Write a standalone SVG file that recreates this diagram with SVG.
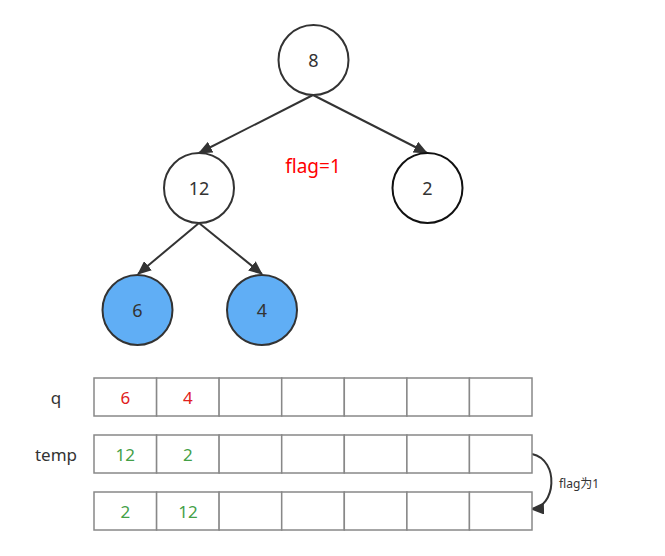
<svg xmlns="http://www.w3.org/2000/svg" width="665" height="556" viewBox="0 0 665 556">
<defs>
<marker id="ah" viewBox="0 0 14 12" refX="13" refY="6" markerWidth="14" markerHeight="12" markerUnits="userSpaceOnUse" orient="auto">
<path d="M0,0 L14,6 L0,12 Z" fill="#333"/>
</marker>
<style>
.n{fill:#fff;stroke:#333;stroke-width:2}
.b{fill:#60AEF5;stroke:#333;stroke-width:2}
.t{font-family:"Noto Sans","Liberation Sans",sans-serif;font-size:17px;fill:#333;text-anchor:middle;dominant-baseline:central}
.c{fill:#fff;stroke:#888;stroke-width:1.5}
.e{stroke:#333;stroke-width:2;fill:none}
.r{fill:#e02020}
.g{fill:#43a047}
</style>
</defs>
<rect width="665" height="556" fill="#fff"/>
<g id="connectors">
<line class="e" x1="313" y1="95" x2="199" y2="153" marker-end="url(#ah)"/>
<line class="e" x1="313" y1="95" x2="427" y2="153" marker-end="url(#ah)"/>
<line class="e" x1="199" y1="223" x2="138" y2="274" marker-end="url(#ah)"/>
<line class="e" x1="199" y1="223" x2="262" y2="274" marker-end="url(#ah)"/>
<path class="e" d="M532,454 C560,460 556,508 531,509" marker-end="url(#ah)"/>
</g>
<g id="n8"><circle class="n" cx="313.5" cy="60" r="35"/><text class="t" x="313.5" y="60" style="font-size:18px">8</text></g>
<g id="n12"><circle class="n" cx="199" cy="188" r="35"/><text class="t" x="199" y="188" style="font-size:18px">12</text></g>
<g id="n2"><circle class="n" cx="427.5" cy="188" r="35" style="stroke:#111"/><text class="t" x="427.5" y="188" style="font-size:18px">2</text></g>
<g id="n6"><circle class="b" cx="137.5" cy="310" r="35"/><text class="t" x="137.5" y="310" style="font-size:18px">6</text></g>
<g id="n4"><circle class="b" cx="262" cy="310" r="35"/><text class="t" x="262" y="310" style="font-size:18px">4</text></g>
<text class="t" x="313" y="166" style="fill:#ff0000;font-size:19px">flag=1</text>
<g id="q">
<text class="t" x="56" y="397">q</text>
<rect class="c" x="94" y="378" width="62.6" height="38"/><rect class="c" x="156.6" y="378" width="62.6" height="38"/><rect class="c" x="219.1" y="378" width="62.6" height="38"/><rect class="c" x="281.7" y="378" width="62.6" height="38"/><rect class="c" x="344.3" y="378" width="62.6" height="38"/><rect class="c" x="406.9" y="378" width="62.6" height="38"/><rect class="c" x="469.4" y="378" width="62.6" height="38"/>
<text class="t r" x="125.3" y="397">6</text><text class="t r" x="187.9" y="397">4</text>
</g>
<g id="temp">
<text class="t" x="56" y="454">temp</text>
<rect class="c" x="94" y="435" width="62.6" height="38"/><rect class="c" x="156.6" y="435" width="62.6" height="38"/><rect class="c" x="219.1" y="435" width="62.6" height="38"/><rect class="c" x="281.7" y="435" width="62.6" height="38"/><rect class="c" x="344.3" y="435" width="62.6" height="38"/><rect class="c" x="406.9" y="435" width="62.6" height="38"/><rect class="c" x="469.4" y="435" width="62.6" height="38"/>
<text class="t g" x="125.3" y="454">12</text><text class="t g" x="187.9" y="454">2</text>
</g>
<g id="result">
<rect class="c" x="94" y="492" width="62.6" height="38"/><rect class="c" x="156.6" y="492" width="62.6" height="38"/><rect class="c" x="219.1" y="492" width="62.6" height="38"/><rect class="c" x="281.7" y="492" width="62.6" height="38"/><rect class="c" x="344.3" y="492" width="62.6" height="38"/><rect class="c" x="406.9" y="492" width="62.6" height="38"/><rect class="c" x="469.4" y="492" width="62.6" height="38"/>
<text class="t g" x="125.3" y="511">2</text><text class="t g" x="187.9" y="511">12</text>
</g>
<text x="559" y="483" style="font-family:'Noto Sans','Liberation Sans','Noto Sans CJK SC',sans-serif;font-size:12px;fill:#333;dominant-baseline:central">flag为1</text>
</svg>
